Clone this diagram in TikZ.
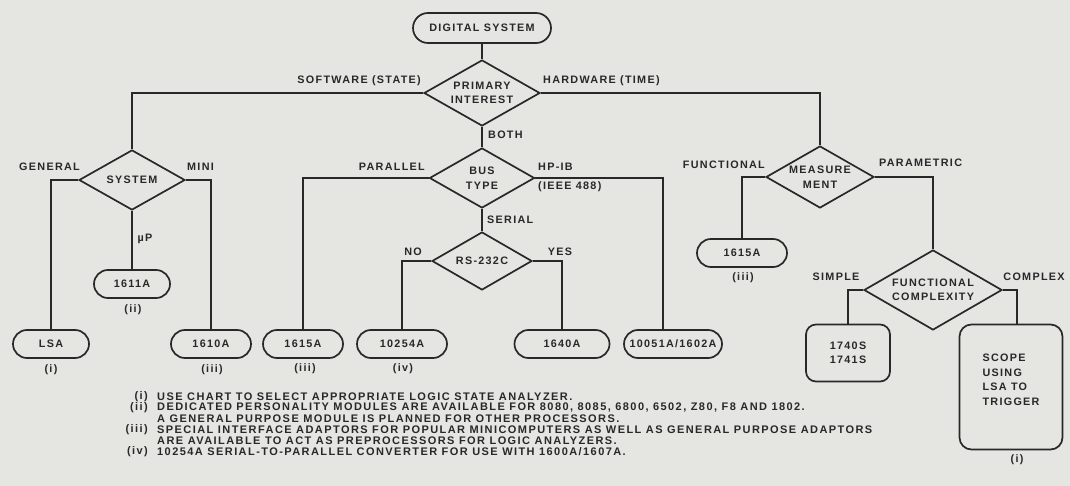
\documentclass[tikz,border=0pt]{standalone}
\usepackage{fontspec}
\setmainfont{Liberation Sans}[LetterSpace=12]
\usetikzlibrary{shapes.geometric}
\definecolor{paper}{RGB}{229,229,226}
\definecolor{ink}{RGB}{40,40,40}
\tikzset{
  every node/.style={font=\bfseries\fontsize{10.8}{14.5}\selectfont, text=ink, inner sep=0pt},
  dia/.style={draw=ink, line width=1.7pt, diamond, aspect=1.75, align=center},
  term/.style={draw=ink, line width=1.7pt, rectangle, rounded corners=14pt, minimum height=28pt},
  bigbox/.style={draw=ink, line width=1.7pt, rectangle, align=center},
  conn/.style={draw=ink, line width=1.7pt},
  note/.style={anchor=west, font=\bfseries\fontsize{11}{11}\selectfont\addfontfeatures{LetterSpace=13}},
  notenum/.style={anchor=east, font=\bfseries\fontsize{11}{11}\selectfont\addfontfeatures{LetterSpace=13}},
}
\begin{document}
\begin{tikzpicture}[x=1pt,y=-1pt]
\fill[paper] (0,0) rectangle (1070,486);
\useasboundingbox (0,0) rectangle (1070,486);

% main nodes
\node[term, minimum width=138pt, minimum height=30pt, rounded corners=15pt] (ds) at (482,28) {DIGITAL SYSTEM};
\node[dia, minimum width=116pt, minimum height=66pt] (pi) at (482,93) {PRIMARY\\INTEREST};
\node[dia, minimum width=106pt, minimum height=60pt] (sys) at (132,180) {SYSTEM};
\node[term, minimum width=76pt] (lsa) at (51,344) {LSA};
\node[term, minimum width=76pt] (b1611) at (132,284) {1611A};
\node[term, minimum width=80pt] (b1610) at (211,344) {1610A};
\node[dia, minimum width=105pt, minimum height=60pt] (bus) at (482,178) {BUS\\TYPE};
\node[term, minimum width=80pt] (b1615a) at (303,344) {1615A};
\node[dia, minimum width=100pt, minimum height=58pt] (rs) at (482,261) {RS-232C};
\node[term, minimum width=90pt] (b10254) at (402,344) {10254A};
\node[term, minimum width=95pt] (b1640) at (562,344) {1640A};
\node[term, minimum width=98pt] (b10051) at (673,344) {10051A/1602A};
\node[dia, minimum width=108pt, minimum height=62pt] (meas) at (820,177) {MEASURE\\MENT};
\node[term, minimum width=90pt] (b1615b) at (742,253) {1615A};
\node[dia, minimum width=138pt, minimum height=80pt] (fc) at (933,290) {FUNCTIONAL\\COMPLEXITY};
\node[bigbox, minimum width=84pt, minimum height=57pt, rounded corners=10pt] (b1740) at (848,353) {1740S\\1741S};
\node[bigbox, minimum width=103pt, minimum height=125pt, rounded corners=12pt, align=left] (scope) at (1011,387) {SCOPE\\USING\\LSA TO\\TRIGGER\\ \mbox{}};

% connectors
\draw[conn] (ds.south) -- (pi.north);
\draw[conn] (pi.west) -| (sys.north);
\draw[conn] (pi.east) -| (meas.north);
\draw[conn] (pi.south) -- (bus.north);
\draw[conn] (sys.west) -| (lsa.north);
\draw[conn] (sys.east) -| (b1610.north);
\draw[conn] (sys.south) -- (b1611.north);
\draw[conn] (bus.west) -| (b1615a.north);
\draw[conn] (bus.east) -| ([xshift=-10pt]b10051.north);
\draw[conn] (bus.south) -- (rs.north);
\draw[conn] (rs.west) -| (b10254.north);
\draw[conn] (rs.east) -| (b1640.north);
\draw[conn] (meas.west) -| (b1615b.north);
\draw[conn] (meas.east) -| (fc.north);
\draw[conn] (fc.west) -| (b1740.north);
\draw[conn] (fc.east) -| ([xshift=6pt]scope.north);

% branch labels
\node[anchor=east] (lsoft) at (421,81) {SOFTWARE (STATE)};
\node[anchor=west] (lhard) at (543,81) {HARDWARE (TIME)};
\node[anchor=west] (lboth) at (488,135) {BOTH};
\node[anchor=east] (lgen) at (80,167) {GENERAL};
\node[anchor=west] (lmini) at (187,167) {MINI};
\node (lmup) at (145,239) {\textmu P};
\node[anchor=east] (lpar) at (425,167) {PARALLEL};
\node[anchor=west] (lhpib) at (538,167) {HP-IB};
\node[anchor=west] (lieee) at (538,187) {(IEEE 488)};
\node[anchor=west] (lser) at (487,220) {SERIAL};
\node (lno) at (413,252) {NO};
\node (lyes) at (560,252) {YES};
\node[anchor=east] (lfun) at (765,165) {FUNCTIONAL};
\node[anchor=west] (lpara) at (879,163) {PARAMETRIC};
\node (lsim) at (836,277) {SIMPLE};
\node (lcom) at (1034,277) {COMPLEX};

% reference marks
\node (r1) at (51,370) {(i)};
\node (r2) at (133,310) {(ii)};
\node (r3) at (212,370) {(iii)};
\node (r4) at (305,369) {(iii)};
\node (r5) at (403,369) {(iv)};
\node (r6) at (743,278) {(iii)};
\node (r7) at (1017,460) {(i)};

% footnotes
\node[notenum] (k1) at (148,397) {(i)};
\node[note] (n1) at (157,397) {USE CHART TO SELECT APPROPRIATE LOGIC STATE ANALYZER.};
\node[notenum] (k2) at (148,408) {(ii)};
\node[note] (n2) at (157,408) {DEDICATED PERSONALITY MODULES ARE AVAILABLE FOR 8080, 8085, 6800, 6502, Z80, F8 AND 1802.};
\node[note] (n3) at (157,419) {A GENERAL PURPOSE MODULE IS PLANNED FOR OTHER PROCESSORS.};
\node[notenum] (k3) at (148,430) {(iii)};
\node[note] (n4) at (157,430) {SPECIAL INTERFACE ADAPTORS FOR POPULAR MINICOMPUTERS AS WELL AS GENERAL PURPOSE ADAPTORS};
\node[note] (n5) at (157,441) {ARE AVAILABLE TO ACT AS PREPROCESSORS FOR LOGIC ANALYZERS.};
\node[notenum] (k4) at (148,452) {(iv)};
\node[note] (n6) at (157,452) {10254A SERIAL-TO-PARALLEL CONVERTER FOR USE WITH 1600A/1607A.};
\end{tikzpicture}
\end{document}
